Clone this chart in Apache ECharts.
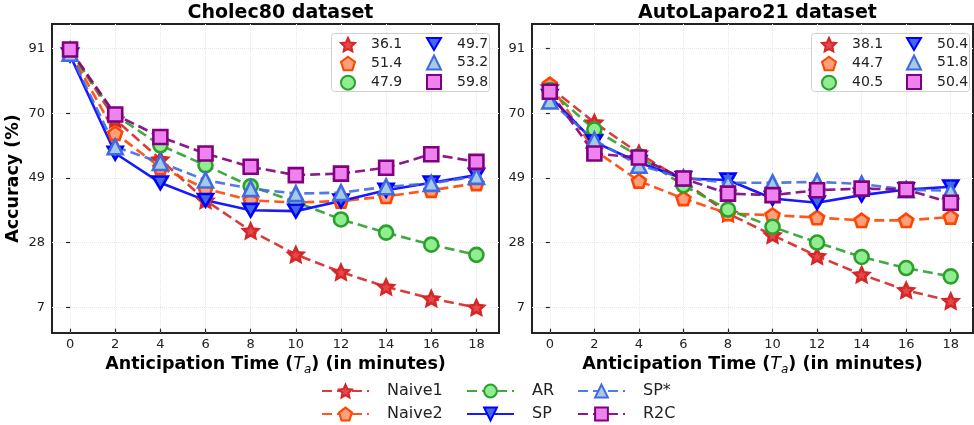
<!DOCTYPE html>
<html>
<head>
<meta charset="utf-8">
<script src="https://cdn.jsdelivr.net/npm/echarts@6/dist/echarts.min.js"></script>
<style>
html, body { margin: 0; padding: 0; background: #fff; }
#main { width: 974px; height: 425px; }
</style>
</head>
<body>
<div id="main"></div>
<script>
// anticipation times (minutes)
var times = [0, 2, 4, 6, 8, 10, 12, 14, 16, 18];
var xTicks = [0, 2, 4, 6, 8, 10, 12, 14, 16, 18];
var yTicks = [7, 28, 49, 70, 91];

// Cholec80
var cholecNaive1 = [90.5, 68, 55, 41.7, 31.8, 24.1, 18.4, 13.6, 9.8, 6.9];
var cholecNaive2 = [90, 63.5, 52.4, 45.5, 41.7, 41.0, 41.5, 43.0, 45.0, 47.2];
var cholecAR     = [90, 69.4, 59.6, 53.1, 46.3, 41.2, 35.5, 31.2, 27.3, 24.0];
var cholecSP     = [88.9, 57, 47.4, 41.7, 38.5, 38.2, 41.5, 45.0, 47.4, 49.9];
var cholecSPs    = [89.5, 59.1, 54.0, 48.3, 45.5, 43.9, 44.2, 46.1, 47.2, 49.5];
var cholecR2C    = [90.7, 69.6, 62.3, 56.9, 52.6, 49.9, 50.4, 52.3, 56.7, 54.2];
var cholecScores = ['36.1', '51.4', '47.9', '49.7', '53.2', '59.8'];

// AutoLaparo21
var autoNaive1 = [78.5, 67, 57, 48, 37.4, 30.4, 23.6, 17.6, 12.5, 9.0];
var autoNaive2 = [79.4, 58, 48.0, 42.3, 37.4, 36.9, 36.1, 35.2, 35.2, 36.3];
var autoAR     = [77.5, 64.7, 56, 46.6, 38.7, 33.1, 28.0, 23.3, 19.7, 17.0];
var autoSP     = [75.5, 60.7, 54, 48.8, 48.3, 42.3, 40.9, 43.4, 45.2, 46.1];
var autoSPs    = [74, 61.3, 53.1, 49, 47.4, 47.4, 47.7, 47.0, 45.2, 44.8];
var autoR2C    = [77.0, 56.9, 55.6, 48.8, 43.9, 43.4, 45.0, 45.5, 45.2, 40.9];
var autoScores = ['38.1', '44.7', '40.5', '50.4', '51.8', '50.4'];

var methods = ['Naive1', 'Naive2', 'AR', 'SP', 'SP*', 'R2C'];

function polyPath(n, inner) {
    var p = '';
    var k = inner ? n * 2 : n;
    for (var i = 0; i < k; i++) {
        var r = (inner && i % 2 === 1) ? inner : 1;
        var a = -Math.PI / 2 + i * 2 * Math.PI / k;
        p += (i ? 'L' : 'M') + (r * Math.cos(a)).toFixed(3) + ',' + (r * Math.sin(a)).toFixed(3);
    }
    return 'path://' + p + 'Z';
}
var STAR = polyPath(5, 0.48);
var PENTA = polyPath(5);
var DOWN = 'path://M-1,-0.6L1,-0.6L0,1.1Z';

var styles = {
    'Naive1': {edge: '#d62728', fill: '#e5484a', symbol: STAR, size: 15, dash: [10, 5]},
    'Naive2': {edge: '#ff4500', fill: '#ffa07a', symbol: PENTA, size: 14, dash: [10, 5]},
    'AR':     {edge: '#2ca02c', fill: '#90ee90', symbol: 'circle', size: 14, dash: [10, 5]},
    'SP':     {edge: '#0000ff', fill: '#4169e1', symbol: DOWN, size: 15, dash: 'solid'},
    'SP*':    {edge: '#4169e1', fill: '#a3cbe6', symbol: 'triangle', size: 15, dash: [10, 5]},
    'R2C':    {edge: '#800080', fill: '#ee82ee', symbol: 'rect', size: 14, dash: [10, 5]}
};

var font = 'DejaVu Sans';

function makeSeries(name, values, idx) {
    var s = styles[name];
    return {
        name: name,
        type: 'line',
        xAxisIndex: idx,
        yAxisIndex: idx,
        data: times.map(function (t, i) { return [t, values[i]]; }),
        symbol: s.symbol,
        symbolSize: s.size,
        symbolKeepAspect: true,
        itemStyle: {color: s.fill, borderColor: s.edge, borderWidth: 2.6},
        lineStyle: {color: s.edge, width: 2.6, type: s.dash, opacity: 0.9},
        emphasis: {disabled: true}
    };
}

function makeXAxis(idx) {
    return {
        type: 'value', gridIndex: idx, min: -0.8, max: 19,
        axisLine: {show: false},
        axisTick: {show: true, customValues: xTicks, length: 4, lineStyle: {color: '#222', width: 1.2}},
        axisLabel: {customValues: xTicks, fontSize: 13, color: '#222', fontFamily: font, margin: 5},
        splitLine: {show: true, lineStyle: {color: '#e6e6e6', type: 'dotted'}},
        name: 'Anticipation Time ({t|T}{s|a}) (in minutes)',
        nameLocation: 'middle',
        nameGap: 18,
        nameTextStyle: {
            fontSize: 17.5, fontWeight: 'bold', color: '#000', fontFamily: font,
            rich: {
                t: {fontSize: 17.5, fontStyle: 'italic', fontWeight: 'normal', color: '#000', fontFamily: font},
                s: {fontSize: 12, fontStyle: 'italic', fontWeight: 'normal', color: '#000', fontFamily: font, padding: [9, 0, 0, 0]}
            }
        }
    };
}

function makeYAxis(idx, withName) {
    return {
        type: 'value', gridIndex: idx, min: -1.4, max: 99,
        axisLine: {show: false},
        axisTick: {show: true, customValues: yTicks, length: 4, lineStyle: {color: '#222', width: 1.2}},
        axisLabel: {customValues: yTicks, fontSize: 13, color: '#222', fontFamily: font, margin: 7},
        splitLine: {show: true, lineStyle: {color: '#e6e6e6', type: 'dotted'}},
        name: withName ? 'Accuracy (%)' : '',
        nameLocation: 'middle',
        nameGap: 30,
        nameTextStyle: {fontSize: 17.5, fontWeight: 'bold', color: '#000', fontFamily: font}
    };
}

function innerLegend(names, left, scores) {
    return {
        orient: 'vertical', left: left, top: 37, padding: 0,
        itemWidth: 14, itemHeight: 14, itemGap: 3.5,
        z: 10,
        data: names.map(function (n) { return {name: n, icon: styles[n].symbol}; }),
        formatter: function (n) { return scores[methods.indexOf(n)]; },
        textStyle: {fontSize: 14, lineHeight: 14, color: '#222', fontFamily: font, padding: [0, 0, 0, 11]},
        selectedMode: false
    };
}

function bottomLegend(names, left) {
    return {
        orient: 'vertical', left: left, top: 383, padding: 0, height: 43,
        itemWidth: 47, itemHeight: 16, itemGap: 7,
        data: names,
        textStyle: {fontSize: 16, lineHeight: 16, color: '#222', fontFamily: font, padding: [0, 0, 0, 13]},
        selectedMode: false
    };
}

var series = [];
[cholecNaive1, cholecNaive2, cholecAR, cholecSP, cholecSPs, cholecR2C].forEach(function (v, i) {
    series.push(makeSeries(methods[i], v, 0));
});
[autoNaive1, autoNaive2, autoAR, autoSP, autoSPs, autoR2C].forEach(function (v, i) {
    series.push(makeSeries(methods[i], v, 1));
});

var chart = echarts.init(document.getElementById('main'));
var option = {
    animation: false,
    backgroundColor: '#fff',
    title: [
        {text: 'Cholec80 dataset', left: 275.5, top: -1, textAlign: 'center',
         textStyle: {fontSize: 19, fontWeight: 'bold', color: '#000', fontFamily: font}},
        {text: 'AutoLaparo21 dataset', left: 752.5, top: -1, textAlign: 'center',
         textStyle: {fontSize: 19, fontWeight: 'bold', color: '#000', fontFamily: font}}
    ],
    grid: [
        {left: 52, top: 24, width: 447, height: 309, show: true, borderColor: '#222', borderWidth: 2, backgroundColor: 'transparent'},
        {left: 532, top: 24, width: 441, height: 309, show: true, borderColor: '#222', borderWidth: 2, backgroundColor: 'transparent'}
    ],
    xAxis: [makeXAxis(0), makeXAxis(1)],
    yAxis: [makeYAxis(0, true), makeYAxis(1, false)],
    graphic: [
        {type: 'rect', left: 331, top: 33, shape: {width: 158, height: 58, r: 3}, z: 5,
         style: {fill: 'rgba(255,255,255,0.85)', stroke: '#d0d0d0', lineWidth: 1}},
        {type: 'rect', left: 811, top: 33, shape: {width: 158, height: 58, r: 3}, z: 5,
         style: {fill: 'rgba(255,255,255,0.85)', stroke: '#d0d0d0', lineWidth: 1}}
    ],
    legend: [
        innerLegend(['Naive1', 'Naive2', 'AR'], 340, cholecScores),
        innerLegend(['SP', 'SP*', 'R2C'], 426, cholecScores),
        innerLegend(['Naive1', 'Naive2', 'AR'], 821, autoScores),
        innerLegend(['SP', 'SP*', 'R2C'], 906, autoScores),
        bottomLegend(['Naive1', 'Naive2'], 321),
        bottomLegend(['AR', 'SP'], 466),
        bottomLegend(['SP*', 'R2C'], 577)
    ],
    series: series
};
chart.setOption(option);
</script>
</body>
</html>
